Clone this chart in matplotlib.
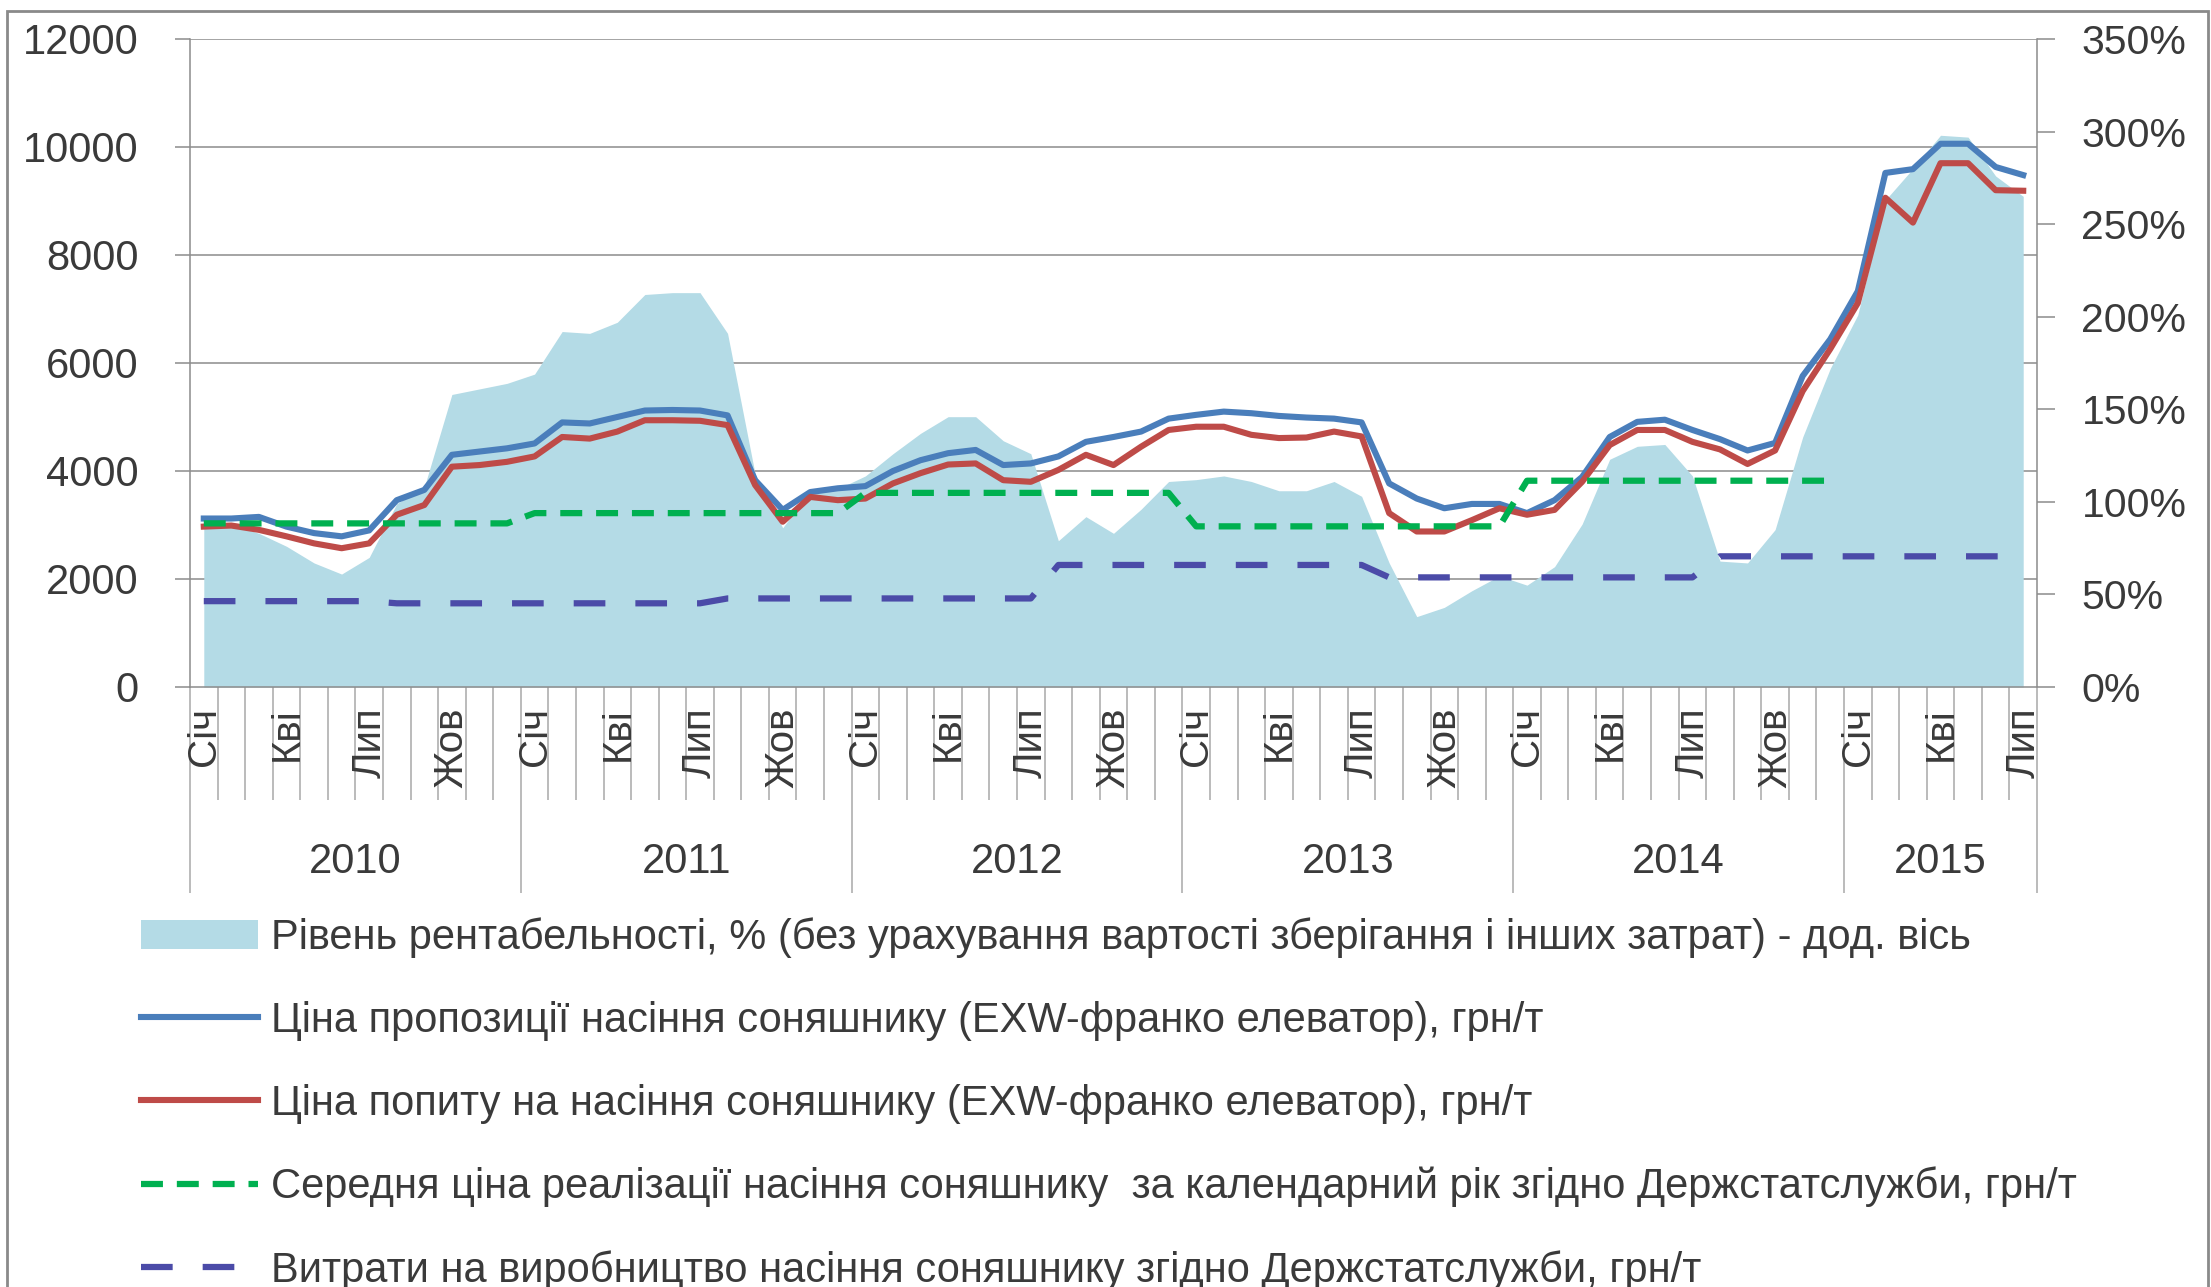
import numpy as np
import matplotlib
matplotlib.use("Agg")
import matplotlib.pyplot as plt
from matplotlib.transforms import blended_transform_factory
from matplotlib.patches import Rectangle

plt.rcParams.update({"font.family": ["Liberation Sans", "DejaVu Sans"],
                     "lines.scale_dashes": False, "text.color": "#3a3a3a",
                     "xtick.color": "#9a9a9a", "ytick.color": "#8a8a8a",
                     "xtick.labelcolor": "#3a3a3a", "ytick.labelcolor": "#3a3a3a"})

MONTH_NAMES = ["Січ", "Лют", "Бер", "Кві", "Тра", "Чер",
               "Лип", "Сер", "Вер", "Жов", "Лис", "Гру"]
YEARS = ["2010", "2011", "2012", "2013", "2014", "2015"]
MONTHS_IN_YEAR = [12, 12, 12, 12, 12, 7]

# Ціна пропозиції, грн/т (Jan 2010 .. Jul 2015)
offer = [3120, 3120, 3150, 2970, 2850, 2790, 2900, 3460, 3650, 4300, 4360, 4420,
         4510, 4900, 4880, 5000, 5120, 5130, 5120, 5030, 3830, 3280, 3610, 3680,
         3720, 4000, 4200, 4330, 4390, 4110, 4140, 4270, 4540, 4630, 4730, 4970,
         5040, 5100, 5070, 5020, 4990, 4970, 4900, 3770, 3490, 3310, 3390, 3390,
         3220, 3460, 3890, 4630, 4910, 4950, 4760, 4590, 4380, 4520, 5760, 6440,
         7330, 9520, 9590, 10060, 10060, 9630, 9480]
# Ціна попиту, грн/т
bid = [2970, 2990, 2910, 2790, 2660, 2570, 2660, 3190, 3370, 4080, 4110, 4170,
       4270, 4630, 4600, 4730, 4940, 4940, 4930, 4850, 3740, 3060, 3520, 3460,
       3490, 3770, 3960, 4120, 4140, 3830, 3800, 4020, 4300, 4110, 4450, 4760,
       4820, 4820, 4670, 4610, 4620, 4730, 4640, 3220, 2880, 2880, 3090, 3310,
       3190, 3280, 3800, 4480, 4760, 4760, 4540, 4400, 4130, 4380, 5480, 6260,
       7110, 9060, 8600, 9700, 9700, 9200, 9190]
# Середня ціна реалізації за рік, грн/т (немає даних за 2015)
avg_price = [3030] * 12 + [3220] * 12 + [3595] * 12 + [2975] * 12 + [3820] * 12 + [np.nan] * 7
# Витрати на виробництво, грн/т
cost = [1590] * 7 + [1550] * 12 + [1640] * 12 + [2260] * 12 + [2030] * 12 + [2420] * 12
# Рівень рентабельності, %
profit = [90, 88, 83, 76, 67, 61, 70, 99, 108, 158, 161, 164,
          169, 192, 191, 197, 212, 213, 213, 191, 115, 86, 106, 107,
          114, 126, 137, 146, 146, 133, 126, 79, 92, 83, 96, 111,
          112, 114, 111, 106, 106, 111, 103, 67, 38, 43, 52, 60,
          55, 65, 88, 123, 130, 131, 114, 68, 67, 85, 135, 172,
          201, 263, 280, 298, 297, 276, 265]

LABELS = [
    "Рівень рентабельності, % (без урахування вартості зберігання і інших затрат) - дод. вісь",
    "Ціна пропозиції насіння соняшнику (EXW-франко елеватор), грн/т",
    "Ціна попиту на насіння соняшнику (EXW-франко елеватор), грн/т",
    "Середня ціна реалізації насіння соняшнику  за календарний рік згідно Держстатслужби, грн/т",
    "Витрати на виробництво насіння соняшнику згідно Держстатслужби, грн/т",
]

month_labels = [m for n in MONTHS_IN_YEAR for m in MONTH_NAMES[:n]]
x = np.arange(len(offer))
GRID = "#8c8c8c"
W, H = 2211, 1287

fig = plt.figure(figsize=(W / 100, H / 100), dpi=100)
rect = [190 / W, 1 - 687 / H, (2037 - 190) / W, (687 - 39) / H]
ax = fig.add_axes(rect)
ax2 = ax.twinx()
ax.set_zorder(2); ax2.set_zorder(1)
ax.patch.set_visible(False)

ax.set_xlim(-0.5, len(x) - 0.5)
ax.set_ylim(0, 12000)
ax2.set_ylim(0, 350)

# gridlines for the left axis, drawn behind the area
yticks = np.arange(0, 12001, 2000)
ax2.hlines(yticks[1:], 0, 1, transform=blended_transform_factory(ax2.transAxes, ax.transData),
           colors=GRID, lw=1.1, zorder=0)

area = ax2.fill_between(x, profit, color="#b4dbe6", lw=0, zorder=1)
l1, = ax.plot(x, offer, color="#4a7ebb", lw=4.4, solid_joinstyle="round")
l2, = ax.plot(x, bid, color="#be4b48", lw=4.4, solid_joinstyle="round")
l3, = ax.plot(x, avg_price, color="#00b050", lw=4.5, dashes=(15.8, 10))
l4, = ax.plot(x, cost, color="#4b4ba8", lw=4.5, dashes=(22.8, 21.6))

ax.set_yticks(yticks)
ax.tick_params(axis="y", direction="out", length=11, width=1.1, color=GRID,
               labelsize=30, pad=26)
ax2.set_yticks(np.arange(0, 351, 50))
ax2.set_yticklabels([f"{v}%" for v in range(0, 351, 50)])
ax2.tick_params(axis="y", direction="out", length=13, width=1.1, color=GRID,
                labelsize=29.5, pad=19)

# category axis: month ticks + long year separators
bounds = np.cumsum([0] + MONTHS_IN_YEAR) - 0.5
ax.set_xticks(bounds)
ax.set_xticks([i + 0.5 for i in x[:-1] if (i + 0.5) not in bounds], minor=True)
ax.tick_params(axis="x", which="major", direction="out", length=148, width=1.1,
               color="#a8a8a8", labelbottom=False)
ax.tick_params(axis="x", which="minor", direction="out", length=81, width=1.1,
               color="#a8a8a8", labelbottom=False)

xt = ax.get_xaxis_transform()
for i in range(0, len(x), 3):
    ax.annotate(month_labels[i], xy=(i, 0), xycoords=xt, xytext=(0, -20),
                textcoords="offset pixels", rotation=90, ha="center", va="top",
                fontsize=29, annotation_clip=False)
for k, yr in enumerate(YEARS):
    ax.annotate(yr, xy=((bounds[k] + bounds[k + 1]) / 2, 0), xycoords=xt,
                xytext=(0, -175), textcoords="offset pixels", ha="center",
                va="center", fontsize=30, annotation_clip=False)

for a in (ax, ax2):
    a.spines["top"].set_visible(False)
    for s in ("left", "right", "bottom"):
        a.spines[s].set_color(GRID)
        a.spines[s].set_linewidth(1.1)
ax.spines["right"].set_visible(False)
ax2.spines["left"].set_visible(False)
ax2.spines["bottom"].set_visible(False)

fig.legend([area, l1, l2, l3, l4], LABELS, loc="upper left",
           bbox_to_anchor=(141 / W, 1 - 917 / H), frameon=False, fontsize=30,
           borderpad=0, borderaxespad=0, handlelength=2.8, handletextpad=0.33,
           labelspacing=1.03)

fig.add_artist(Rectangle((7 / W, -0.1), (2208 - 7) / W, 1.1 - 11 / H,
                         transform=fig.transFigure, fill=False,
                         edgecolor="#8a8a8a", lw=2))

fig.savefig("out.png", dpi=100)
